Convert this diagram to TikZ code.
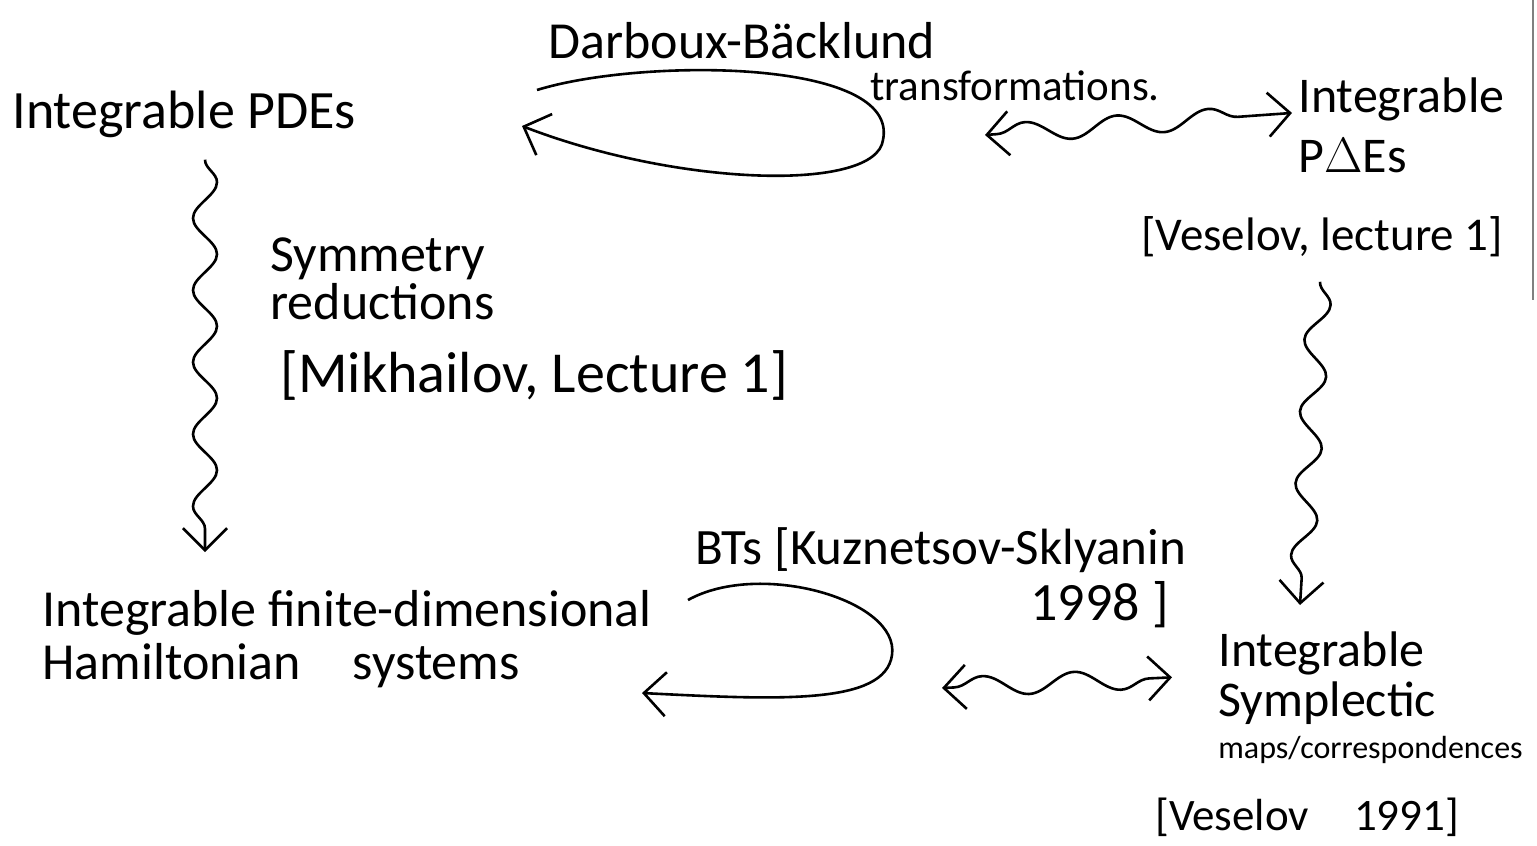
\documentclass[tikz,border=0pt]{standalone}
\usepackage{fontspec}
\setmainfont{Carlito}
\usetikzlibrary{positioning, calc, arrows.meta, decorations.pathmorphing}
\newcommand{\hand}{\fontsize{26}{26.5}\selectfont}
\newcommand{\handsmall}{\fontsize{16}{20}\selectfont}

\begin{document}
\begin{tikzpicture}[x=0.5pt, y=-0.5pt,
		lbl/.style={font=\hand, inner sep=0pt, align=left},
		barb/.tip={Straight Barb[length=11pt, width=22pt, line width=1.3pt]},
		turn/.style={line width=1.3pt, -barb},
		wavyarrow/.style={line width=1.3pt, -barb, decorate, decoration={snake, amplitude=6pt, segment length=36pt, post length=8pt}},
		wavypair/.style={line width=1.3pt, barb-barb, decorate, decoration={snake, amplitude=5pt, segment length=46pt, pre length=6pt, post length=6pt}}
		]
		\useasboundingbox (0,0) rectangle (1537,846);
		
		\node[lbl, anchor=base west, font=\fontsize{27}{30}\selectfont] (pdes) at (12,128) {Integrable PDEs};
		\node[lbl, anchor=base west] (dbk) at (548,58) {Darboux-Bäcklund};
		\node[lbl, anchor=base west, font=\fontsize{21.5}{24}\selectfont] (trf) at (870,100) {transformations.};
		\node[lbl, anchor=north west, font=\fontsize{25}{30}\selectfont] (pae) at (1298,77) {Integrable\\P$\Delta$Es};
		\node[lbl, anchor=base west, font=\fontsize{23.5}{26}\selectfont] (vsl1) at (1141,250) {[Veselov, lecture 1]};
		\node[lbl, anchor=north west, font=\fontsize{26}{24}\selectfont] (sym) at (270,237) {Symmetry\\reductions};
		\node[lbl, anchor=base west, font=\fontsize{29}{30}\selectfont] (mik) at (280,392) {[Mikhailov, Lecture 1]};
		\node[lbl, anchor=north west] (fin) at (42,590) {Integrable finite-dimensional\\Hamiltonian\quad systems};
		\node[lbl, anchor=base west, font=\fontsize{25.5}{30}\selectfont] (bts) at (695,564) {BTs [Kuznetsov-Sklyanin};
		\node[lbl, anchor=base west, font=\fontsize{27}{30}\selectfont] (yr) at (1030,620) {1998 ]};
		\node[lbl, anchor=north west, font=\fontsize{25}{25}\selectfont] (symp) at (1218,631) {Integrable\\Symplectic\\[-4pt]{\handsmall maps/correspondences}};
		\node[lbl, anchor=base west, font=\fontsize{22.5}{26}\selectfont] (vsl2) at (1155,830) {[Veselov\quad 1991]};
		
		% self loops
		\coordinate (dbin) at (537,90);
		\coordinate (dbout) at (522,126);
		\draw[turn] (dbin) .. controls (640,58) and (900,58) .. (883,140) .. controls (876,192) and (680,187) .. (dbout);
		\coordinate (btin) at (688,600);
		\coordinate (btout) at (642,693);
		\draw[turn] (btin) .. controls (760,560) and (900,600) .. (892,655) .. controls (885,705) and (780,700) .. (btout);
		
		% wavy arrows
		\coordinate (dbwav) at (985,135);
		\coordinate (btwav) at (942,688);
		\draw[wavypair] (dbwav) -- ([shift={(-6,-12)}]pae.west);
		\draw[wavypair] (btwav) -- ([shift={(-46,-20)}]symp.west);
		\draw[wavyarrow] ([shift={(193,22)}]pdes.south west) -- ([shift={(163,-38)}]fin.north west);
		\draw[wavyarrow] ([shift={(179,25)}]vsl1.south west) -- ([shift={(82,-26)}]symp.north west);
		
		\draw[gray, line width=0.8pt] (1533,0) -- (1533,300);
	\end{tikzpicture}
\end{document}
